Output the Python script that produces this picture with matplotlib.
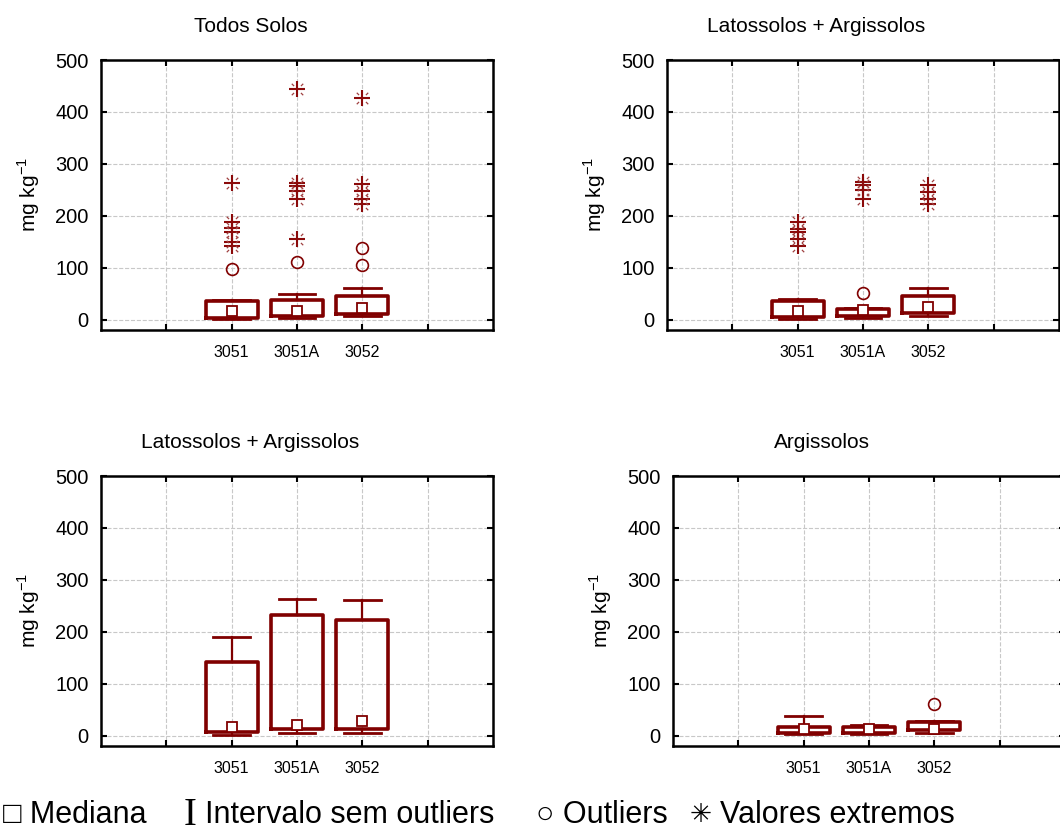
import matplotlib.pyplot as plt
import numpy as np
from matplotlib.path import Path
from matplotlib import font_manager

installed = {f.name for f in font_manager.fontManager.ttflist}
narrow = 'Liberation Sans Narrow' if 'Liberation Sans Narrow' in installed else 'Liberation Sans'
plt.rcParams['font.family'] = ['Liberation Sans', 'DejaVu Sans']

categories = ['3051', '3051A', '3052']
titles = ['Todos Solos', 'Latossolos + Argissolos', 'Latossolos + Argissolos', 'Argissolos']

# Todos Solos
p1_min = [1, 3, 6]
p1_q1 = [4, 6, 10]
p1_med = [17, 17, 22]
p1_q3 = [35, 38, 45]
p1_max = [38, 49, 60]
p1_out = [[98], [110], [137, 105]]
p1_ext = [[264, 188, 176, 168, 150, 142], [444, 264, 258, 248, 232, 155], [426, 262, 248, 232, 222]]

# Latossolos + Argissolos (top)
p2_min = [2, 4, 6]
p2_q1 = [5, 7, 13]
p2_med = [17, 18, 25]
p2_q3 = [35, 20, 46]
p2_max = [40, 22, 61]
p2_out = [[], [51], []]
p2_ext = [[188, 175, 168, 155, 141], [265, 259, 250, 233], [260, 245, 232, 222]]

# Latossolos + Argissolos (bottom)
p3_min = [2, 5, 5]
p3_q1 = [7, 13, 13]
p3_med = [17, 21, 29]
p3_q3 = [141, 232, 222]
p3_max = [189, 264, 261]
p3_out = [[], [], []]
p3_ext = [[], [], []]

# Argissolos
p4_min = [3, 3, 6]
p4_q1 = [5, 6, 10]
p4_med = [13, 13, 13]
p4_q3 = [17, 16, 27]
p4_max = [38, 21, 28]
p4_out = [[], [], [60]]
p4_ext = [[], [], []]

red = '#800000'
pos = [2, 3, 4]

# corner ticks of the asterisk symbol
corner = Path([(-1, -1), (1, 1), (0.45, 0.45), (0.75, 0.75), (-0.45, -0.45), (-0.75, -0.75),
               (0.45, -0.45), (0.75, -0.75), (-0.45, 0.45), (-0.75, 0.75)],
              [Path.MOVETO, Path.MOVETO, Path.MOVETO, Path.LINETO, Path.MOVETO, Path.LINETO,
               Path.MOVETO, Path.LINETO, Path.MOVETO, Path.LINETO])


def draw_panel(ax, title, mins, q1s, meds, q3s, maxs, outs, exts):
    stats = [dict(med=m, q1=a, q3=b, whislo=lo, whishi=hi, fliers=[])
             for lo, a, m, b, hi in zip(mins, q1s, meds, q3s, maxs)]
    ax.bxp(stats, positions=pos, widths=0.8, capwidths=0.56, showfliers=False,
           boxprops=dict(color=red, lw=2.6),
           whiskerprops=dict(color=red, lw=1.6),
           capprops=dict(color=red, lw=2.0),
           medianprops=dict(visible=False))
    ax.plot(pos, meds, 's', ms=7.5, mfc='white', mec=red, mew=1.3, zorder=5)
    for x, vals in zip(pos, outs):
        if vals:
            ax.plot([x] * len(vals), vals, 'o', ms=8.5, mfc='none', mec=red, mew=1.2, zorder=5)
    for x, vals in zip(pos, exts):
        if vals:
            ax.plot([x] * len(vals), vals, '+', ms=11, mec='#8b0a0a', mew=1.5, zorder=5)
            ax.plot([x] * len(vals), vals, marker=corner, ls='none', ms=11,
                    mec='#a04040', mew=0.9, zorder=5)

    ax.set_xlim(0, 6)
    ax.set_ylim(-20, 500)
    ax.set_yticks([0, 100, 200, 300, 400, 500])
    ax.set_xticks([1, 2, 3, 4, 5])
    ax.set_xticklabels([''] + categories + [''], family=narrow, fontsize=11.5)
    ax.tick_params(axis='y', labelsize=14.5, pad=9)
    ax.tick_params(axis='x', pad=11)
    ax.tick_params(direction='in', top=True, right=True, length=4, width=1.5)
    ax.grid(True, ls='--', color='#c8c8c8', lw=0.8)
    ax.set_axisbelow(True)
    for s in ax.spines.values():
        s.set_linewidth(1.8)
    ax.set_ylabel('mg kg$^{\\mathregular{-1}}$', fontsize=15)
    ax.yaxis.set_label_coords(-0.15, 0.5)
    ax.set_title(title, x=0.381, pad=20, fontsize=15)


fig = plt.figure(figsize=(10.6, 8.38), dpi=100)
W, H = 1060, 838
boxes = [(101, 60), (667, 60), (101, 476), (673, 476)]
panels = [
    (p1_min, p1_q1, p1_med, p1_q3, p1_max, p1_out, p1_ext),
    (p2_min, p2_q1, p2_med, p2_q3, p2_max, p2_out, p2_ext),
    (p3_min, p3_q1, p3_med, p3_q3, p3_max, p3_out, p3_ext),
    (p4_min, p4_q1, p4_med, p4_q3, p4_max, p4_out, p4_ext),
]
for (lx, ty), title, data in zip(boxes, titles, panels):
    ax = fig.add_axes([lx / W, (H - ty - 270) / H, 392 / W, 270 / H])
    draw_panel(ax, title, *data)

# legend row
ly = 1 - 815 / H
fs = 22
fig.text(3 / W, ly, '□ Mediana', fontsize=fs, va='center')
fig.text(184 / W, ly, 'I', fontsize=28, family=['Liberation Serif'], va='center')
fig.text(205 / W, ly, 'Intervalo sem outliers', fontsize=fs, va='center')
fig.text(536 / W, ly, '○ Outliers', fontsize=fs, va='center')
fig.text(690 / W, ly, '✳', fontsize=19, family=['DejaVu Sans'], va='center')
fig.text(720 / W, ly, 'Valores extremos', fontsize=fs, va='center')

fig.savefig('out.png', dpi=100)
